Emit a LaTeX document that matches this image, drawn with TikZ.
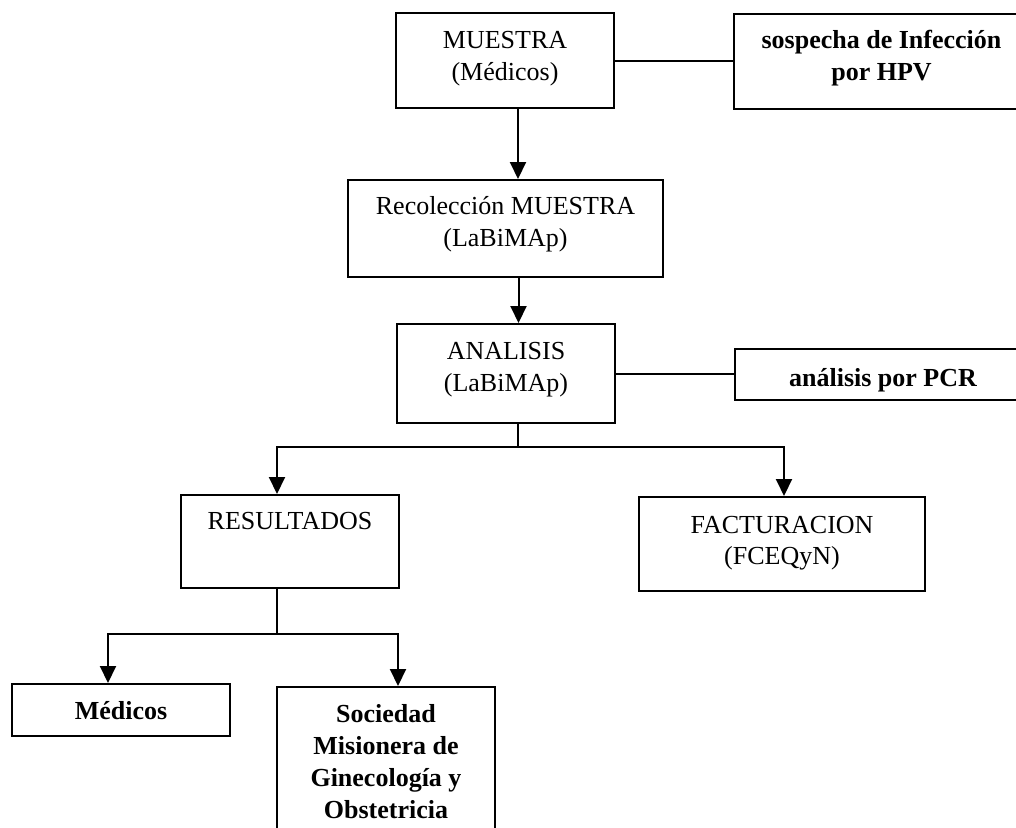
\documentclass[tikz,border=0pt]{standalone}
\usepackage{fontspec}
\setmainfont{Liberation Serif}
\usetikzlibrary{arrows.meta}
\newcommand\flowtext[4]{\parbox[c][#2][t]{#1}{\centering\rule{0pt}{#3}#4}}
\begin{document}
\begin{tikzpicture}[x=1pt,y=-1pt,
  fbox/.style={draw, line width=2pt, inner sep=0pt, anchor=north west, font=\fontsize{26}{32}\selectfont},
  boldtext/.style={font=\fontsize{26}{32}\selectfont\bfseries},
  conn/.style={line width=2pt},
  arr/.style={line width=2pt, -{Triangle[length=17pt,width=16pt]}}]
\clip (0,0) rectangle (1016,827);
\fill[white] (0,0) rectangle (1016,827);

\node[fbox] (muestra) at (395,12) {\flowtext{218pt}{95pt}{35pt}{MUESTRA\\(Médicos)}};
\node[fbox, boldtext] (sospecha) at (733,13) {\flowtext{295pt}{95pt}{34pt}{sospecha de Infección\\por HPV}};
\node[fbox] (recol) at (347,179) {\flowtext{315pt}{97pt}{34pt}{Recolección MUESTRA\\(LaBiMAp)}};
\node[fbox] (analisis) at (396,323) {\flowtext{218pt}{99pt}{35pt}{ANALISIS\\(LaBiMAp)}};
\node[fbox, boldtext] (pcr) at (734,348) {\flowtext{296pt}{51pt}{37pt}{análisis por PCR}};
\node[fbox] (result) at (180,494) {\flowtext{218pt}{93pt}{34pt}{RESULTADOS}};
\node[fbox, font=\fontsize{26}{31}\selectfont] (fact) at (638,496) {\flowtext{286pt}{94pt}{36pt}{FACTURACION\\(FCEQyN)}};
\node[fbox, boldtext] (medicos) at (11,683) {\flowtext{218pt}{52pt}{35pt}{Médicos}};
\node[fbox, font=\fontsize{26}{32}\selectfont\bfseries] (sociedad) at (276,686) {\flowtext{218pt}{170pt}{35pt}{Sociedad\\Misionera de\\Ginecología y\\Obstetricia}};

\draw[conn] (muestra.east) -- (sospecha.west |- muestra.east);
\draw[arr] ([xshift=13pt]muestra.south) coordinate (m1) -- (m1 |- recol.north);
\draw[arr] ([xshift=13pt]recol.south) coordinate (r1) -- (r1 |- analisis.north);
\draw[conn] (analisis.east) -- (pcr.west |- analisis.east);

\path ([xshift=12pt]analisis.south) coordinate (a1);
\coordinate (split1) at (a1 |- 0,447);
\draw[conn] (a1) -- (split1);
\path ([xshift=-13pt]result.north) coordinate (rn);
\path ([xshift=2pt]fact.north) coordinate (fn);
\draw[arr] (split1) -| (rn);
\draw[arr] (split1) -| (fn);

\path ([xshift=-13pt]result.south) coordinate (rs);
\coordinate (split2) at (rs |- 0,634);
\draw[conn] (rs) -- (split2);
\path ([xshift=-13pt]medicos.north) coordinate (mn);
\path ([xshift=12pt]sociedad.north) coordinate (sn);
\draw[arr] (split2) -| (mn);
\draw[arr] (split2) -| (sn);
\end{tikzpicture}
\end{document}
